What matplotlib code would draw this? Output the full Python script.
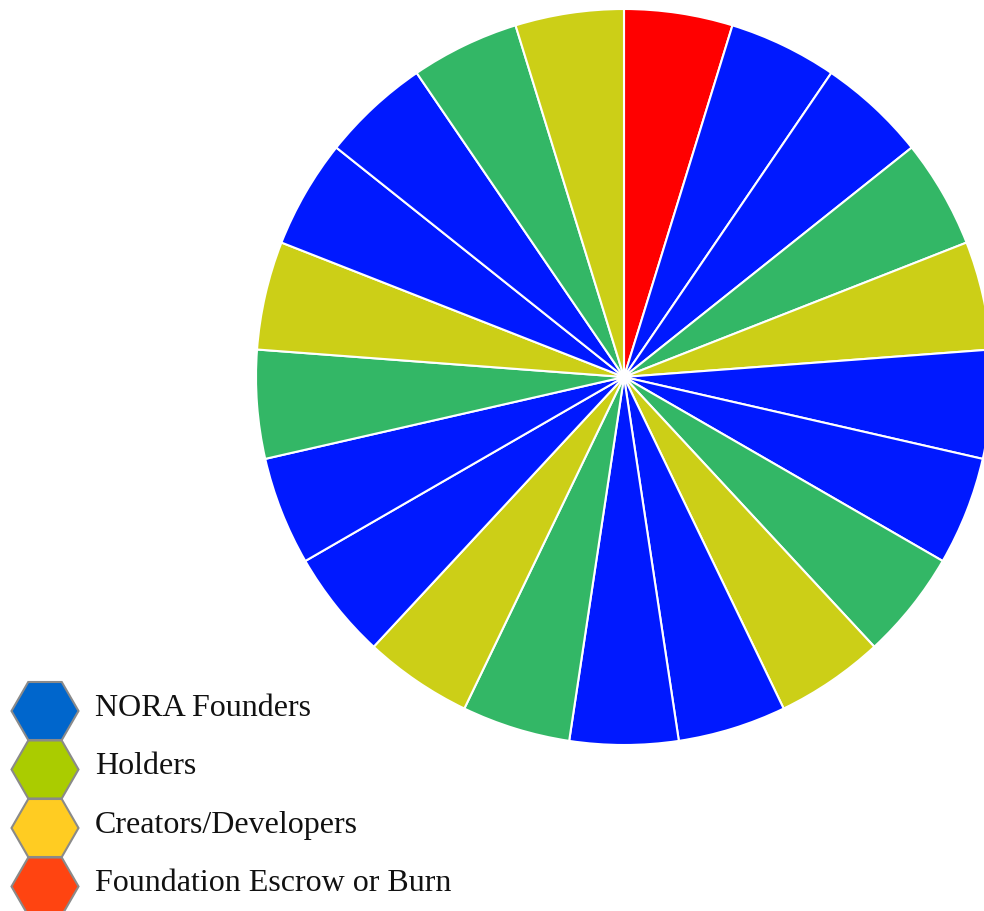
import numpy as np
import matplotlib
matplotlib.use("Agg")
from matplotlib import pyplot as plt
from matplotlib.patches import RegularPolygon

# 21 equal slices, clockwise from 12 o'clock
slice_groups = ["Escrow"] + ["Founders", "Founders", "Creators", "Holders"] * 5
slice_values = [1] * len(slice_groups)
slice_colors = {"Escrow": "#ff0000", "Founders": "#0019ff",
                "Creators": "#33b766", "Holders": "#cccf17"}

legend_labels = ["NORA Founders", "Holders", "Creators/Developers",
                 "Foundation Escrow or Burn"]
legend_colors = ["#0066cc", "#aacc00", "#ffcc22", "#ff4411"]

W, H = 984, 911
fig = plt.figure(figsize=(W / 100, H / 100), dpi=100)
ax = fig.add_axes([0, 0, 1, 1])

ax.pie(slice_values, colors=[slice_colors[g] for g in slice_groups],
       startangle=90, counterclock=False, center=(624, H - 377), radius=368,
       wedgeprops=dict(edgecolor="white", linewidth=1.5), frame=True)
ax.set_xlim(0, W)
ax.set_ylim(0, H)
ax.set_aspect("equal")
ax.axis("off")

# legend: hexagons with labels
y0, dy = 711, 58.5
for i, (lab, col) in enumerate(zip(legend_labels, legend_colors)):
    yc = H - (y0 + i * dy)
    hexa = RegularPolygon((45, yc), numVertices=6, radius=33.5,
                          orientation=np.pi / 6, facecolor=col,
                          edgecolor="#8a8a8a", linewidth=1.5)
    ax.add_patch(hexa)
    ax.text(95, yc + 3, lab, fontsize=23, family="Liberation Serif",
            va="center", ha="left", color="#111111")

fig.savefig("out.png", dpi=100)
